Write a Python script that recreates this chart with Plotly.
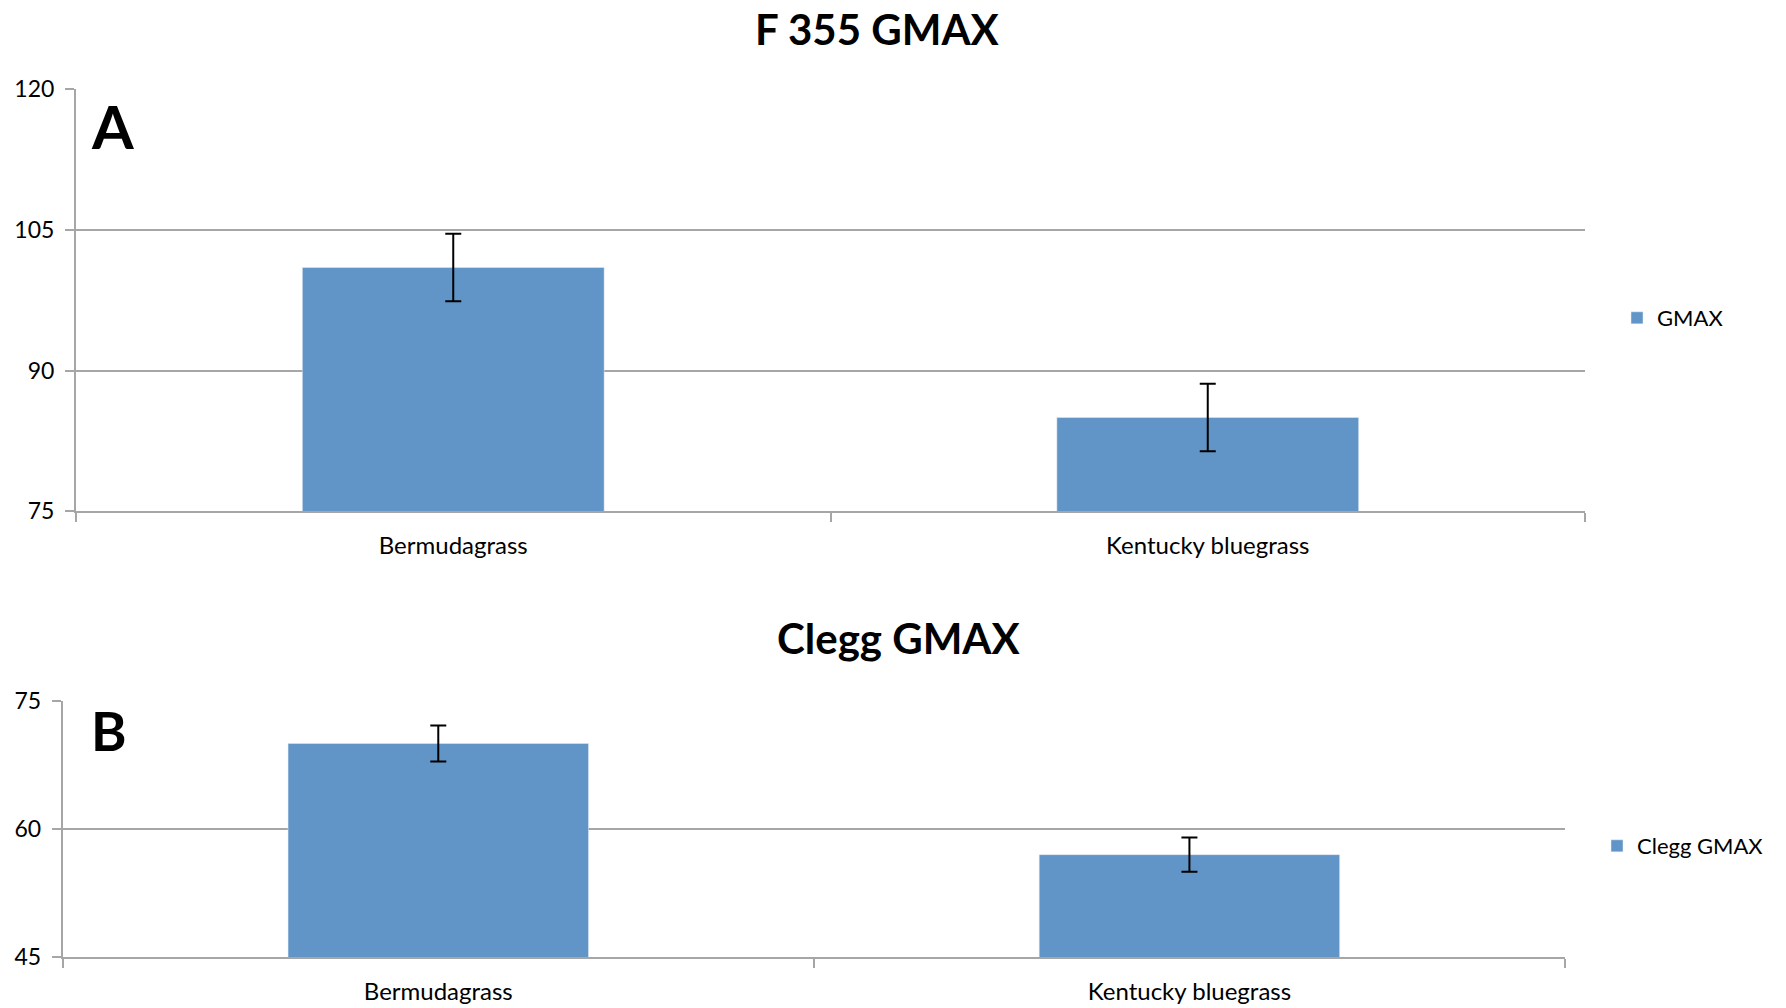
import plotly.graph_objects as go

categories = ["Bermudagrass", "Kentucky bluegrass"]
f355_gmax = [101.0, 85.0]
f355_err = [3.6, 3.6]
clegg_gmax = [70.0, 57.0]
clegg_err = [2.1, 2.0]
ticks_a = [75, 90, 105, 120]
ticks_b = [45, 60, 75]

W, H = 1786, 1008
BAR = "#6194C7"
GRID = "#A6A6A6"
FONT = "Lato"

fig = go.Figure()
fig.add_trace(go.Bar(
    x=categories, y=f355_gmax, name="GMAX", marker_color=BAR,
    error_y=dict(type="data", array=f355_err, color="black", thickness=2, width=8),
    xaxis="x", yaxis="y", legend="legend", width=0.4, showlegend=True,
))
fig.add_trace(go.Bar(
    x=categories, y=clegg_gmax, name="Clegg GMAX", marker_color=BAR,
    error_y=dict(type="data", array=clegg_err, color="black", thickness=2, width=8),
    xaxis="x2", yaxis="y2", legend="legend2", width=0.4, showlegend=True,
))

def px(v):
    return v / W

def py(v):
    return 1 - v / H

axis_common = dict(
    showline=True, linecolor=GRID, linewidth=2,
    ticks="outside", tickcolor=GRID, ticklen=9, tickwidth=2,
    automargin=False,
)
cat_font = dict(family=FONT, size=24, color="black")
num_font = dict(family=FONT, size=23, color="black")

fig.update_layout(
    width=W, height=H,
    margin=dict(l=0, r=0, t=0, b=0, pad=0, autoexpand=False),
    paper_bgcolor="white", plot_bgcolor="white",
    font=dict(family=FONT, color="black"),
    bargap=0.6,
    xaxis=dict(domain=[px(76), px(1585)], anchor="y", type="category",
               tickson="boundaries", ticklabelstandoff=12, tickfont=cat_font, **axis_common),
    yaxis=dict(domain=[py(511.3), py(89.3)], anchor="x", range=[75, 120],
               tickvals=ticks_a, showgrid=True, gridcolor=GRID, gridwidth=2,
               ticklabelstandoff=6, zeroline=False, tickfont=num_font, **axis_common),
    xaxis2=dict(domain=[px(62.7), px(1565)], anchor="y2", type="category",
                tickson="boundaries", ticklabelstandoff=12, tickfont=cat_font, **axis_common),
    yaxis2=dict(domain=[py(957.3), py(700.7)], anchor="x2", range=[45, 75],
                tickvals=ticks_b, showgrid=True, gridcolor=GRID, gridwidth=2,
                ticklabelstandoff=6, zeroline=False, tickfont=num_font, **axis_common),
    legend=dict(x=px(1617), y=py(318), xanchor="left", yanchor="middle",
                font=dict(family=FONT, size=22), bgcolor="rgba(0,0,0,0)"),
    legend2=dict(x=px(1597), y=py(846), xanchor="left", yanchor="middle",
                 font=dict(family=FONT, size=22), bgcolor="rgba(0,0,0,0)"),
    annotations=[
        dict(text="<b>F 355 GMAX</b>", x=px(877), y=py(29), xref="paper", yref="paper",
             xanchor="center", yanchor="middle",
             showarrow=False, font=dict(family=FONT, size=42)),
        dict(text="<b>Clegg GMAX</b>", x=px(899), y=py(638), xref="paper", yref="paper",
             xanchor="center", yanchor="middle",
             showarrow=False, font=dict(family=FONT, size=42)),
        dict(text="<b>A</b>", x=px(89), y=py(126), xref="paper", yref="paper",
             xanchor="left", yanchor="middle", showarrow=False, font=dict(family=FONT, size=60)),
        dict(text="<b>B</b>", x=px(89), y=py(730), xref="paper", yref="paper",
             xanchor="left", yanchor="middle", showarrow=False, font=dict(family=FONT, size=54)),
    ],
)

fig.write_html(
    "out.html",
    config={"displayModeBar": False},
    post_script="document.body.style.margin='0';document.body.style.overflow='hidden';",
)
